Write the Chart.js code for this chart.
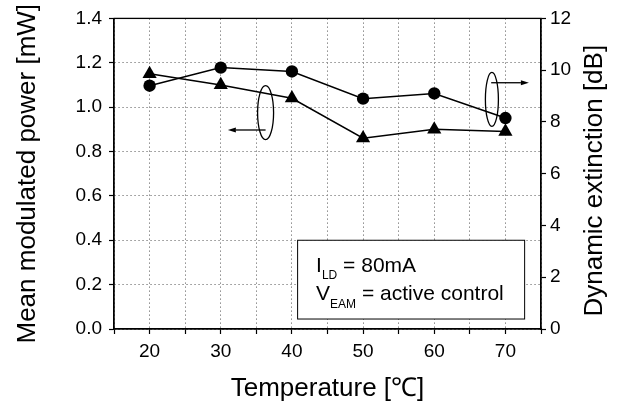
<!DOCTYPE html>
<html>
<head>
<meta charset="utf-8">
<script src="https://cdn.jsdelivr.net/npm/chart.js@4.4.0/dist/chart.umd.min.js"></script>
<style>
  html, body { margin: 0; padding: 0; background: #fff; }
  #wrap { width: 621px; height: 404px; }
</style>
</head>
<body>
<div id="wrap"><canvas id="chart" width="621" height="404"></canvas></div>
<script>
// temperature sweep [°C]
const temperatures = [20, 30, 40, 50, 60, 70];
// mean modulated power [mW] - triangles, left axis
const meanPower = [1.15, 1.10, 1.04, 0.86, 0.90, 0.89];
// dynamic extinction [dB] - circles, right axis
const extinction = [9.4, 10.1, 9.95, 8.9, 9.1, 8.15];

// labelled x ticks (grid every 5)
const xLabels = [20, 30, 40, 50, 60, 70];

const FONT = "'Liberation Sans', Arial, Helvetica, sans-serif";

const toPoints = (ys) => temperatures.map((t, i) => ({ x: t, y: ys[i] }));

// small helper for the arrows next to the ellipses
function arrow(ctx, x0, y0, x1, y1) {
  const a = Math.atan2(y1 - y0, x1 - x0);
  const len = 8, half = 2.5;
  ctx.beginPath();
  ctx.moveTo(x0, y0);
  ctx.lineTo(x1 - Math.cos(a) * len, y1 - Math.sin(a) * len);
  ctx.stroke();
  ctx.beginPath();
  ctx.moveTo(x1, y1);
  ctx.lineTo(x1 - Math.cos(a) * len + Math.sin(a) * half, y1 - Math.sin(a) * len - Math.cos(a) * half);
  ctx.lineTo(x1 - Math.cos(a) * len - Math.sin(a) * half, y1 - Math.sin(a) * len + Math.cos(a) * half);
  ctx.closePath();
  ctx.fill();
}

// frame, ellipses/arrows, text box and the right axis title
const decorations = {
  id: 'decorations',
  beforeDatasetsDraw(chart) {
    const { ctx, chartArea: a } = chart;
    ctx.save();
    ctx.strokeStyle = '#000';
    ctx.lineWidth = 1.3;
    ctx.strokeRect(a.left, a.top, a.right - a.left, a.bottom - a.top);
    ctx.restore();
  },
  afterDatasetsDraw(chart) {
    const { ctx, chartArea: a, scales: { x, y, y1 } } = chart;
    ctx.save();
    ctx.strokeStyle = '#000';
    ctx.fillStyle = '#000';
    ctx.lineWidth = 1.3;

    // ellipse + arrow pointing to the power axis
    let cx = x.getPixelForValue(36.3), cy = y.getPixelForValue(0.975);
    ctx.beginPath(); ctx.ellipse(cx, cy, 8, 27, 0, 0, Math.PI * 2); ctx.stroke();
    arrow(ctx, cx, y.getPixelForValue(0.897), x.getPixelForValue(31.0), y.getPixelForValue(0.897));

    // ellipse + arrow pointing to the extinction axis
    cx = x.getPixelForValue(68.1); cy = y.getPixelForValue(1.035);
    ctx.beginPath(); ctx.ellipse(cx, cy, 6.5, 27, 0, 0, Math.PI * 2); ctx.stroke();
    arrow(ctx, x.getPixelForValue(68.0), y.getPixelForValue(1.110), x.getPixelForValue(73.3), y.getPixelForValue(1.110));

    // conditions box
    const bx0 = x.getPixelForValue(40.8), bx1 = x.getPixelForValue(72.7);
    const by0 = y.getPixelForValue(0.40), by1 = y.getPixelForValue(0.045);
    ctx.fillStyle = '#fff';
    ctx.fillRect(bx0, by0, bx1 - bx0, by1 - by0);
    ctx.lineWidth = 1;
    ctx.strokeRect(bx0, by0, bx1 - bx0, by1 - by0);
    ctx.fillStyle = '#000';
    ctx.textBaseline = 'alphabetic';
    ctx.textAlign = 'left';
    const big = '21px ' + FONT, small = '12px ' + FONT;
    const lines = [['I', 'LD', ' = 80mA'], ['V', 'EAM', ' = active control']];
    lines.forEach((ln, i) => {
      let tx = bx0 + 18.5;
      const base = by0 + 31.5 + i * 28.5;
      ctx.font = big; ctx.fillText(ln[0], tx, base); tx += ctx.measureText(ln[0]).width;
      ctx.font = small; ctx.fillText(ln[1], tx, base + 7.5); tx += ctx.measureText(ln[1]).width;
      ctx.font = big; ctx.fillText(ln[2], tx, base);
    });

    // right axis title, reading bottom to top
    ctx.font = '26px ' + FONT;
    ctx.textAlign = 'center';
    ctx.textBaseline = 'middle';
    ctx.translate(y1.right - 26, (a.top + a.bottom) / 2 + 7);
    ctx.rotate(-Math.PI / 2);
    ctx.fillText('Dynamic extinction [dB]', 0, 0);
    ctx.restore();
  }
};

const gridDash = [1.5, 2.5];

new Chart(document.getElementById('chart'), {
  type: 'scatter',
  data: {
    datasets: [
      {
        label: 'Mean modulated power',
        data: toPoints(meanPower),
        yAxisID: 'y',
        showLine: true,
        borderColor: '#000',
        borderWidth: 1.5,
        pointStyle: 'triangle',
        pointRadius: 8.2,
        pointBackgroundColor: '#000',
        pointBorderWidth: 0
      },
      {
        label: 'Dynamic extinction',
        data: toPoints(extinction),
        yAxisID: 'y1',
        showLine: true,
        borderColor: '#000',
        borderWidth: 1.5,
        pointStyle: 'circle',
        pointRadius: 6.2,
        pointBackgroundColor: '#000',
        pointBorderWidth: 0
      }
    ]
  },
  options: {
    responsive: false,
    animation: false,
    layout: { padding: { top: 17, left: 0, right: 0, bottom: 0 } },
    plugins: { legend: { display: false }, tooltip: { enabled: false } },
    scales: {
      x: {
        type: 'linear',
        min: 15,
        max: 75,
        afterFit: s => { s.height = 75; },
        ticks: {
          stepSize: 5,
          autoSkip: false,
          maxRotation: 0,
          padding: 6,
          color: '#000',
          font: { family: FONT, size: 19 },
          callback: v => (xLabels.includes(v) ? String(v) : '')
        },
        grid: { color: '#8c8c8c', lineWidth: 1, tickLength: 5, tickColor: '#000', tickWidth: 1.2 },
        border: { color: '#000', width: 1.3, dash: gridDash },
        title: {
          display: true,
          text: 'Temperature [℃]',
          color: '#000',
          font: { family: FONT, size: 26 },
          padding: { top: 0, bottom: 0 }
        }
      },
      y: {
        position: 'left',
        min: 0,
        max: 1.4,
        afterFit: s => { s.width = 114; },
        ticks: {
          stepSize: 0.2,
          padding: 7,
          color: '#000',
          font: { family: FONT, size: 19 },
          callback: v => v.toFixed(1)
        },
        grid: { color: '#8c8c8c', lineWidth: 1, tickLength: 5, tickColor: '#000', tickWidth: 1.2 },
        border: { color: '#000', width: 1.3, dash: gridDash },
        title: {
          display: true,
          text: 'Mean modulated power [mW]',
          color: '#000',
          font: { family: FONT, size: 26 },
          padding: { top: 12, bottom: 0 }
        }
      },
      y1: {
        position: 'right',
        min: 0,
        max: 12,
        afterFit: s => { s.width = 80; },
        ticks: {
          stepSize: 2,
          padding: 4,
          color: '#000',
          font: { family: FONT, size: 19 }
        },
        grid: { drawOnChartArea: false, tickLength: 5, tickColor: '#000', tickWidth: 1.2 },
        border: { color: '#000', width: 1.3 }
      }
    }
  },
  plugins: [decorations]
});
</script>
</body>
</html>
